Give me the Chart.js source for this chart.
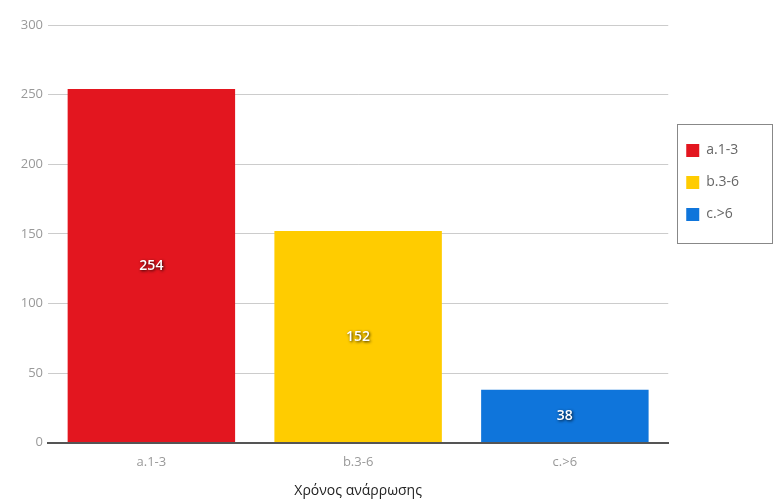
<html>
<head>
<script src="https://cdn.jsdelivr.net/npm/chart.js@4.4.0/dist/chart.umd.min.js"></script>
<style>
body{margin:0;background:#fff;}
#wrap{width:774px;height:499px;}
</style>
</head>
<body>
<div id="wrap"><canvas id="recovery"></canvas></div>
<script>
// data
var categories = ['a.1-3', 'b.3-6', 'c.>6'];
var counts = [254, 152, 38];
var barColors = ['#e3161f', '#ffcc00', '#0f75db'];
var yTicks = [0, 50, 100, 150, 200, 250, 300];
var xTitle = 'Χρόνος ανάρρωσης';

// value label inside each bar, white with a dark shadow
var barLabels = {
  id: 'barLabels',
  afterDatasetsDraw: function(chart){
    var c = chart.ctx;
    var meta = chart.getDatasetMeta(0);
    c.save();
    c.font = '600 14px "Open Sans", sans-serif';
    c.textAlign = 'center';
    c.textBaseline = 'middle';
    meta.data.forEach(function(bar, i){
      var y = (bar.y + bar.base) / 2;
      c.shadowColor = 'rgba(0,0,0,0.85)';
      c.shadowBlur = 3;
      c.shadowOffsetX = 1;
      c.shadowOffsetY = 1;
      c.fillStyle = '#fff';
      c.fillText(counts[i], bar.x, y);
    });
    c.restore();
  }
};

// border round the legend
var legendBox = {
  id: 'legendBox',
  afterDraw: function(chart){
    var c = chart.ctx;
    c.save();
    c.strokeStyle = '#888';
    c.lineWidth = 1;
    c.strokeRect(677.5, 124.5, 95, 119);
    c.restore();
  }
};

var ctx = document.getElementById('recovery').getContext('2d');
var chart = new Chart(ctx, {
  type: 'bar',
  data: {
    labels: categories,
    datasets: [{
      data: counts,
      backgroundColor: barColors,
      borderWidth: 0,
      barPercentage: 0.81,
      categoryPercentage: 1
    }]
  },
  options: {
    responsive: true,
    maintainAspectRatio: false,
    animation: false,
    layout: {padding: {top: 25, left: 0, right: 25, bottom: 0}},
    plugins: {
      tooltip: {enabled: false},
      legend: {
        position: 'right',
        align: 'start',
        title: {display: true, text: ' ', font: {size: 12}, padding: {top: 86, bottom: 0}},
        labels: {
          boxWidth: 13,
          boxHeight: 13,
          padding: 18,
          color: '#222',
          font: {size: 14, family: '"Open Sans", sans-serif'},
          generateLabels: function(ch){
            return categories.map(function(cat, i){
              return {text: cat, fillStyle: barColors[i], strokeStyle: barColors[i], lineWidth: 0, index: i};
            });
          }
        }
      }
    },
    scales: {
      x: {
        grid: {display: false},
        border: {color: '#555', width: 2},
        ticks: {color: '#999', font: {size: 13, family: '"Open Sans", sans-serif'}, padding: 4},
        title: {display: true, text: xTitle, color: '#222', font: {size: 14, family: '"Open Sans", sans-serif'}, padding: {top: 8, bottom: 0}}
      },
      y: {
        min: 0, max: 300,
        afterBuildTicks: function(s){ s.ticks = yTicks.map(function(v){ return {value: v}; }); },
        afterFit: function(s){ s.width = 48; },
        grid: {color: '#ccc', drawTicks: false},
        border: {display: false},
        ticks: {color: '#999', padding: 5, font: {size: 13, family: '"Open Sans", sans-serif'}}
      }
    }
  },
  plugins: [barLabels, legendBox]
});
</script>
</body>
</html>
